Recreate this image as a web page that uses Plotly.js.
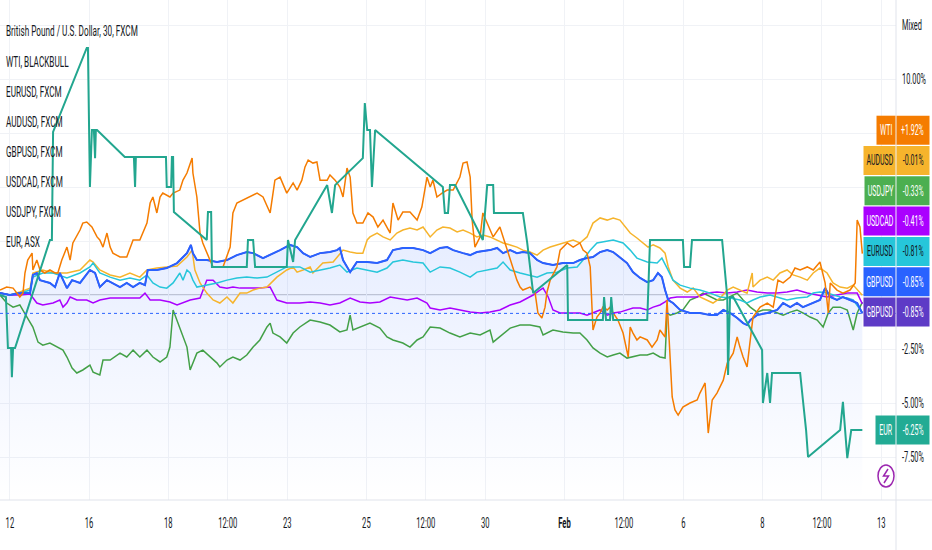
<!DOCTYPE html>
<html><head><meta charset="utf-8">
<script src="https://cdn.plot.ly/plotly-3.0.1.min.js"></script>
<style>html,body{margin:0;padding:0;background:#fff;}#chart{width:932px;height:550px;}</style>
</head><body><div id="chart"></div>
<script>
// x = trading days since Jan 12 00:00 (30-min session axis), y = % change from start
const eurX = [-0.25,-0.10,-0.05,0.03,0.05,0.08,0.13,1.01,1.06,1.09,1.94,1.97,2.02,2.07,2.12,2.15,2.17,2.20,2.90,3.13,3.16,3.18,3.94,3.96,4.07,4.09,4.12,4.14,4.97,5.00,5.08,5.10,5.98,6.01,6.14,6.19,6.99,7.02,7.15,7.20,8.01,8.13,8.21,8.91,8.96,9.02,9.09,9.14,9.22,10.93,10.98,11.06,11.11,11.24,11.94,11.99,12.05,12.20,12.22,12.95,13.06,13.21,14.07,14.09,14.97,15.00,15.05,15.15,15.18,15.23,16.09,16.16,16.99,17.02,17.17,17.22,17.98,18.11,18.13,18.18,18.26,18.99,19.01,19.12,19.19,19.24,19.95,20.02,20.10,20.15,20.96,21.03,21.14,21.24,21.52];
const eurY = [0,-0.09,-2.45,-2.45,-3.80,-2.45,-2.45,2.55,2.55,7.55,11.44,11.44,5.00,7.64,7.64,6.34,7.64,7.64,6.39,6.39,5.00,6.39,6.39,5.00,5.00,6.39,6.39,3.84,2.55,3.84,3.84,1.30,1.30,2.55,2.55,1.30,1.30,2.55,1.53,2.55,5.09,3.80,5.09,6.34,8.89,7.64,7.64,5.00,7.64,5.00,3.80,3.80,5.09,5.09,2.55,3.80,5.09,5.09,3.80,3.80,2.41,0.09,1.39,-1.16,-1.16,-0.09,-1.16,-1.16,-0.09,-1.16,-1.16,2.55,2.55,1.30,1.30,2.55,2.55,-0.09,-3.70,-0.09,-0.09,-2.55,-5.00,-3.61,-5.00,-3.61,-3.61,-4.86,-6.25,-7.50,-6.25,-4.95,-7.55,-6.25,-6.25];

const gbpX = [-0.25,0,0.25,0.51,0.58,0.68,0.76,1.01,1.14,1.26,1.44,1.57,1.77,2.02,2.15,2.27,2.45,2.60,2.78,2.95,3.11,3.28,3.41,3.48,3.71,3.96,4.22,4.47,4.57,4.62,4.72,4.97,5.23,5.48,5.73,5.98,6.14,6.39,6.57,6.82,7.07,7.25,7.40,7.58,7.83,8.08,8.26,8.33,8.41,8.51,8.59,8.76,9.02,9.27,9.52,9.67,9.92,10.18,10.43,10.61,10.86,11.04,11.19,11.44,11.62,11.79,12.12,12.30,12.45,12.63,12.80,12.95,13.13,13.31,13.46,13.71,13.96,14.22,14.39,14.57,14.72,14.90,15.08,15.23,15.40,15.58,15.73,15.91,16.09,16.24,16.36,16.46,16.54,16.62,16.74,16.92,17.17,17.42,17.68,17.85,18.01,18.18,18.36,18.51,18.61,18.69,18.86,19.12,19.37,19.52,19.70,19.87,20.02,20.28,20.45,20.58,20.71,20.88,21.03,21.21,21.39,21.52];
const gbpY = [0.09,0,0.09,0.09,0.93,1.02,0.69,0.56,0.37,1.02,0.32,0.69,0.56,1.16,1.02,0.37,0.69,0.56,0.37,0.56,0.37,0.56,0.46,1.16,1.16,1.25,1.48,1.94,2.32,1.94,1.62,1.62,1.53,1.62,1.85,1.99,1.94,1.71,1.85,2.08,2.32,2.22,1.94,1.76,1.94,1.99,2.08,2.18,1.62,1.30,1.06,1.53,1.53,1.48,1.62,2.08,2.18,2.18,2.08,1.94,2.18,2.22,2.08,1.94,1.85,1.99,2.08,2.18,1.94,2.08,1.94,1.99,1.94,1.62,1.48,1.39,1.48,1.48,1.62,1.71,1.76,1.99,2.08,1.99,1.76,1.48,1.06,0.79,0.60,0.69,1.02,0.83,0.23,-0.23,-0.37,-0.69,-0.83,-0.83,-0.93,-0.93,-0.69,-0.83,-1.06,-1.30,-1.39,-1.16,-0.93,-0.83,-0.69,-0.37,-0.56,-0.37,-0.56,-0.37,-0.23,0.32,-0.09,-0.23,-0.09,-0.23,-0.37,-0.85];

const eurusdX = [-0.25,0,0.25,0.51,0.58,0.83,1.09,1.44,1.77,2.02,2.10,2.27,2.53,2.78,3.03,3.28,3.46,3.61,3.79,3.96,4.12,4.29,4.37,4.47,4.55,4.62,4.72,4.97,5.23,5.48,5.73,5.98,6.24,6.49,6.74,6.99,7.15,7.32,7.58,7.83,8.08,8.33,8.51,8.76,9.02,9.27,9.52,9.67,9.92,10.18,10.43,10.61,10.86,11.11,11.36,11.62,11.79,12.05,12.30,12.45,12.63,12.88,13.13,13.31,13.56,13.81,14.07,14.32,14.47,14.65,14.82,14.97,15.23,15.48,15.66,15.83,16.09,16.34,16.46,16.59,16.74,16.92,17.17,17.42,17.68,17.93,18.18,18.43,18.61,18.76,18.94,19.19,19.44,19.62,19.87,20.13,20.28,20.45,20.63,20.78,20.96,21.14,21.29,21.52];
const eurusdY = [0.09,0,0.09,0.23,0.83,1.02,1.02,0.79,1.02,1.30,1.48,1.02,0.83,0.69,0.79,0.69,0.93,0.56,0.37,0.32,0.56,1.02,0.69,1.16,1.02,0.69,0.37,0.46,0.56,0.69,0.79,0.83,0.79,0.83,1.06,1.30,1.30,1.30,1.06,1.16,1.25,1.39,1.06,1.25,1.16,1.06,1.25,1.53,1.62,1.53,1.48,1.06,1.30,1.25,1.06,0.83,1.06,1.16,1.25,1.53,1.16,1.02,0.93,0.83,1.02,1.06,1.25,1.30,1.62,2.08,2.41,2.45,2.55,2.41,2.08,1.71,1.53,1.48,1.71,1.25,0.69,0.46,0.32,0.23,0.09,-0.09,-0.14,-0.23,-0.37,-0.23,-0.09,0,-0.14,-0.23,-0.14,-0.09,0.09,0.14,0.09,0,-0.09,-0.14,-0.23,-0.81];

const audX = [-0.25,0,0.25,0.51,0.58,0.83,1.09,1.44,1.77,2.02,2.10,2.27,2.53,2.78,3.03,3.28,3.46,3.71,3.96,4.22,4.47,4.60,4.67,4.80,4.97,5.13,5.30,5.48,5.63,5.81,5.98,6.14,6.31,6.49,6.74,6.99,7.15,7.25,7.40,7.58,7.65,7.90,8.16,8.33,8.41,8.59,8.76,8.91,9.02,9.09,9.27,9.42,9.60,9.77,9.92,10.10,10.28,10.43,10.61,10.78,10.93,11.11,11.29,11.44,11.62,11.79,11.94,12.12,12.30,12.45,12.63,12.80,12.95,13.13,13.31,13.46,13.64,13.81,13.96,14.22,14.39,14.57,14.72,14.90,15.08,15.23,15.40,15.53,15.66,15.83,15.98,16.11,16.24,16.41,16.54,16.62,16.74,16.92,17.10,17.25,17.42,17.60,17.75,17.93,18.11,18.26,18.43,18.61,18.74,18.76,18.94,19.12,19.27,19.44,19.62,19.77,19.95,20.13,20.28,20.45,20.63,20.78,20.96,21.14,21.29,21.52];
const audY = [0.09,0,0.14,0.32,1.02,1.16,1.02,1.02,1.16,1.62,1.53,1.16,0.93,0.83,1.02,0.83,1.16,1.25,1.30,1.34,1.76,2.08,1.16,0.56,0.09,-0.23,-0.37,-0.09,-0.37,0.09,0.09,0.23,0.32,0.37,0.83,1.16,1.30,1.06,1.16,1.30,1.02,1.48,1.53,1.94,2.08,1.99,1.94,1.94,2.55,2.69,2.87,2.69,2.55,2.87,3.01,3.10,3.01,3.15,2.69,3.01,3.15,3.10,2.92,3.01,2.87,2.69,2.78,2.69,2.55,2.41,2.32,2.22,2.08,1.99,1.85,2.08,2.22,2.32,2.41,2.55,2.41,2.69,3.33,3.57,3.47,3.57,3.47,3.15,2.87,2.64,2.41,2.22,2.32,2.18,1.94,1.30,0.69,0.32,0.14,0.32,-0.09,-0.23,-0.37,-0.14,0.23,0.37,0.23,0.09,1.02,0.37,0.69,0.83,0.69,1.02,1.16,0.93,0.83,0.69,1.02,1.25,1.02,0.56,0.37,0.32,0.46,-0.01];

const cadX = [-0.25,0,0.25,0.51,0.68,0.83,1.09,1.26,1.34,1.44,1.52,1.69,1.94,2.10,2.27,2.53,2.78,3.03,3.28,3.41,3.54,3.79,4.04,4.22,4.37,4.55,4.80,4.97,5.13,5.30,5.48,5.63,5.81,6.06,6.31,6.57,6.74,6.99,7.15,7.32,7.58,7.83,8.08,8.33,8.59,8.84,9.09,9.34,9.60,9.77,10.03,10.28,10.53,10.61,10.86,11.11,11.36,11.62,11.87,12.12,12.37,12.63,12.88,13.06,13.21,13.38,13.46,13.59,13.71,13.89,14.14,14.39,14.57,14.72,14.90,15.08,15.23,15.40,15.58,15.73,15.91,16.09,16.24,16.41,16.54,16.67,16.84,17.10,17.35,17.60,17.85,18.11,18.36,18.61,18.86,19.12,19.37,19.62,19.87,20.13,20.38,20.63,20.88,21.14,21.39,21.52];
const cadY = [0.09,0,0,0.05,-0.37,-0.46,-0.37,-0.23,-0.56,-0.37,-0.09,-0.23,-0.23,-0.37,-0.23,-0.14,-0.14,-0.14,-0.14,0.09,-0.23,-0.23,-0.32,-0.46,-0.37,-0.23,-0.14,0.69,0.69,0.37,0.32,0.37,0.32,0.32,0.32,0.37,-0.23,-0.37,-0.37,-0.37,-0.32,-0.37,-0.46,-0.37,-0.14,-0.32,-0.37,-0.32,-0.09,-0.14,-0.23,-0.14,-0.37,-0.60,-0.69,-0.60,-0.69,-0.79,-0.83,-0.79,-0.69,-0.46,-0.32,-0.14,0,0.23,0.32,-0.09,-0.69,-0.83,-0.83,-0.83,-0.93,-0.83,-0.69,-0.93,-0.83,-0.79,-0.69,-0.60,-0.60,-0.69,-0.56,-0.46,-0.32,-0.14,-0.09,-0.09,-0.09,0.09,0.14,0.09,0.14,0.23,0.14,0.09,0.09,0.14,0.23,0.09,0,-0.09,0,0.09,0.09,-0.41];

const jpyX = [-0.25,-0.08,0.08,0.25,0.43,0.58,0.71,0.83,1.01,1.19,1.34,1.44,1.57,1.69,1.84,2.02,2.10,2.27,2.35,2.53,2.78,2.95,3.11,3.28,3.46,3.61,3.79,3.96,4.04,4.12,4.22,4.34,4.47,4.55,4.72,4.87,5.05,5.23,5.30,5.48,5.63,5.81,5.98,6.14,6.31,6.49,6.57,6.64,6.82,6.99,7.15,7.32,7.58,7.83,8.08,8.33,8.51,8.59,8.66,8.84,9.09,9.34,9.52,9.67,9.92,10.10,10.28,10.43,10.61,10.86,11.11,11.36,11.62,11.87,12.12,12.20,12.37,12.63,12.88,13.13,13.38,13.46,13.71,13.96,14.22,14.39,14.57,14.72,14.90,15.08,15.23,15.40,15.58,15.73,15.91,16.09,16.24,16.41,16.54,16.59,16.67,16.84,16.99,17.17,17.35,17.50,17.68,17.85,18.01,18.18,18.36,18.51,18.69,18.86,19.01,19.19,19.37,19.52,19.70,19.87,20.02,20.20,20.38,20.53,20.66,20.78,20.96,21.14,21.29,21.39,21.52];
const jpyY = [0,-0.37,-0.56,-0.46,-1.02,-1.48,-2.18,-2.32,-2.22,-2.41,-2.55,-2.87,-3.38,-3.61,-3.47,-3.24,-3.57,-3.70,-3.01,-3.01,-2.69,-2.87,-2.55,-2.87,-2.55,-2.87,-3.10,-2.87,-2.41,-0.69,-1.16,-1.76,-2.41,-3.47,-2.69,-2.55,-2.87,-3.15,-3.33,-3.01,-2.87,-3.01,-2.78,-2.41,-2.08,-1.48,-1.30,-1.76,-1.94,-2.22,-1.76,-1.48,-1.16,-1.25,-1.39,-1.71,-1.62,-0.93,-1.62,-1.48,-1.30,-1.53,-1.94,-2.08,-2.22,-2.41,-2.08,-1.94,-1.48,-1.53,-1.76,-1.94,-1.76,-1.85,-1.62,-2.18,-1.94,-1.53,-1.39,-1.39,-1.48,-1.85,-1.62,-1.71,-1.76,-1.76,-2.08,-2.45,-2.69,-2.87,-2.78,-2.69,-2.92,-2.87,-2.78,-2.78,-2.69,-2.87,-2.92,-0.83,-0.93,-0.83,-0.69,-0.23,-0.09,0.09,-0.09,-0.23,-0.23,-0.09,0.09,-0.23,-0.56,-0.79,-0.69,-0.69,-0.83,-0.93,-0.79,-0.69,-0.83,-1.02,-1.16,-1.48,-0.83,-0.56,-0.56,-0.69,-1.62,-0.83,-0.33];

const wtiX = [-0.25,-0.08,0.08,0.25,0.33,0.38,0.45,0.56,0.58,0.68,0.76,0.88,1.01,1.14,1.21,1.31,1.44,1.52,1.59,1.77,1.84,1.94,2.07,2.20,2.27,2.35,2.45,2.53,2.60,2.78,2.95,3.11,3.28,3.46,3.54,3.61,3.71,3.79,3.86,4.04,4.12,4.29,4.37,4.47,4.60,4.62,4.72,4.80,4.87,4.97,5.05,5.13,5.23,5.38,5.56,5.63,5.73,5.88,6.06,6.24,6.39,6.57,6.69,6.82,6.99,7.15,7.25,7.37,7.45,7.53,7.65,7.75,7.83,8.01,8.08,8.21,8.33,8.41,8.51,8.59,8.66,8.76,8.91,9.04,9.17,9.29,9.42,9.60,9.67,9.80,9.92,10.10,10.28,10.40,10.53,10.61,10.68,10.78,10.91,11.04,11.19,11.36,11.44,11.54,11.62,11.67,11.74,11.87,11.94,12.05,12.20,12.37,12.45,12.58,12.70,12.80,12.88,12.95,13.13,13.26,13.33,13.43,13.51,13.56,13.64,13.81,13.89,14.07,14.22,14.39,14.47,14.57,14.65,14.72,14.82,14.90,14.97,15.08,15.15,15.23,15.35,15.48,15.61,15.66,15.73,15.83,15.91,16.09,16.21,16.34,16.41,16.54,16.59,16.64,16.72,16.79,16.87,16.99,17.17,17.35,17.42,17.55,17.63,17.73,17.85,18.01,18.11,18.26,18.36,18.43,18.51,18.61,18.69,18.76,18.94,19.12,19.27,19.39,19.52,19.70,19.82,19.95,20.13,20.28,20.45,20.58,20.66,20.71,20.88,21.03,21.21,21.34,21.39,21.46,21.52];
const wtiY = [0.23,0.37,0.32,-0.09,0.09,1.02,1.62,1.94,1.16,1.62,1.16,1.02,1.16,1.02,1.02,1.62,2.22,1.62,2.41,3.01,3.33,3.38,3.15,2.69,2.55,2.22,2.87,2.22,1.94,1.76,1.76,2.55,2.55,3.33,4.26,4.54,3.80,4.54,4.72,4.54,4.72,4.86,5.32,5.65,6.34,5.65,4.54,2.87,2.41,1.94,1.62,1.30,1.30,1.30,2.22,3.80,4.26,4.40,4.54,4.72,4.54,3.80,5.32,5.46,4.72,5.19,4.86,5.32,5.93,6.25,6.11,6.16,5.32,5.32,5.56,5.32,5.00,4.54,5.88,5.46,3.80,3.33,3.33,3.80,3.61,3.15,3.47,2.87,4.26,3.47,3.84,3.84,3.47,4.07,5.46,5.00,5.32,4.54,4.72,4.86,4.86,5.46,6.11,6.16,5.46,3.47,2.22,2.69,3.80,3.33,2.69,3.15,2.69,1.94,1.30,0.69,0.37,0.23,0.37,0.09,-0.83,-1.06,-0.56,0.14,0.69,1.30,2.08,2.41,2.22,2.41,2.08,1.94,1.30,-1.62,-1.02,-0.83,-0.56,-0.69,-0.56,-0.83,-1.16,-1.76,-2.87,-1.48,-1.76,-2.08,-1.94,-2.08,-2.41,-2.08,-1.62,-1.94,-0.23,-1.76,-4.72,-5.32,-5.56,-5.19,-5.00,-4.86,-4.54,-4.07,-6.39,-4.86,-4.54,-3.94,-3.15,-2.69,-1.94,-2.41,-2.87,-3.33,-2.08,-1.02,-0.56,-0.37,-0.56,0.69,0.56,0.83,1.25,1.16,1.30,1.16,1.53,0.56,-0.83,0.56,0.23,0.09,0.23,0.56,3.47,3.15,1.92];

const tickDays = [0,2,4,5.5,7,9,10.5,12,14,15.5,17,19,20.5,22];
const tickLabels = ['12','16','18','12:00','23','25','12:00','30','<b>Feb</b>','12:00','6','8','12:00','13'];
const yTickVals = [12.5,10,7.5,5,2.5,0,-2.5,-5,-7.5];
const yTickText = ['Mixed','10.00%','','','','','-2.50%','-5.00%','-7.50%'];
const legendLines = ['British Pound / U.S. Dollar, 30, FXCM','WTI, BLACKBULL','EURUSD, FXCM','AUDUSD, FXCM','GBPUSD, FXCM','USDCAD, FXCM','USDJPY, FXCM','EUR, ASX'];
const badgeNames = ['WTI','AUDUSD','USDJPY','USDCAD','EURUSD','GBPUSD','GBPUSD','EUR'];
const badgeValues = ['+1.92%','-0.01%','-0.33%','-0.41%','-0.81%','-0.85%','-0.85%','-6.25%'];
const badgeColors = ['#F57C00','#F6B42C','#4CAF50','#AA00FF','#26C6DA','#2962FF','#5E3BC6','#22AB94'];
const badgeTextColors = ['#ffffff','#131722','#ffffff','#ffffff','#131722','#ffffff','#ffffff','#ffffff'];

const C = {wti:'#F57C00', aud:'#F6B42C', jpy:'#43A047', cad:'#AA00FF', eurusd:'#26C6DA', gbp:'#2962FF', gbp2:'#673AB7', eur:'#22A68F'};

// layout geometry (pixels)
const W=932, H=550, PR=896, PB=500;
const X_RANGE=[-0.25,22.37], Y_RANGE=[-9.49,13.66];
const px=x=>x/PR, py=y=>(PB-y)/PB;
const FONT='Roboto, "Liberation Sans", Arial, sans-serif';

const traces = [
  {x:[gbpX[0],gbpX[gbpX.length-1]], y:[Y_RANGE[0],Y_RANGE[0]], mode:'lines', line:{width:0}, hoverinfo:'skip', showlegend:false},
  {x:gbpX, y:gbpY, mode:'lines', line:{width:0}, fill:'tonexty', fillcolor:'rgba(41,98,255,0.07)',
   fillgradient:{type:'vertical', colorscale:[[0,'rgba(41,98,255,0.0)'],[1,'rgba(41,98,255,0.11)']]}, hoverinfo:'skip', showlegend:false},
  {x:jpyX, y:jpyY, mode:'lines', line:{color:C.jpy, width:1.5}, name:'USDJPY'},
  {x:cadX, y:cadY, mode:'lines', line:{color:C.cad, width:1.5}, name:'USDCAD'},
  {x:audX, y:audY, mode:'lines', line:{color:C.aud, width:1.5}, name:'AUDUSD'},
  {x:eurusdX, y:eurusdY, mode:'lines', line:{color:C.eurusd, width:1.5}, name:'EURUSD'},
  {x:gbpX, y:gbpY, mode:'lines', line:{color:C.gbp2, width:1.5}, name:'GBPUSD, FXCM'},
  {x:gbpX, y:gbpY, mode:'lines', line:{color:C.gbp, width:2}, name:'GBPUSD'},
  {x:wtiX, y:wtiY, mode:'lines', line:{color:C.wti, width:1.5}, name:'WTI'},
  {x:eurX, y:eurY, mode:'lines', line:{color:C.eur, width:2}, name:'EUR'}
];

const annotations = [];
const legendY = [31,61.5,92,122,152,182,212,242];
legendLines.forEach((t,i)=>annotations.push({xref:'paper',yref:'paper',x:px(4),y:py(legendY[i]),xanchor:'left',yanchor:'middle',align:'left',
  text:t, showarrow:false, font:{family:FONT,size:14,color:'#131722'}}));

const shapes = [
  {type:'line', xref:'paper', yref:'y', x0:0, x1:1, y0:0, y1:0, line:{color:'#9598A1', width:1}, layer:'below'},
  {type:'line', xref:'paper', yref:'y', x0:0, x1:1, y0:gbpY[gbpY.length-1], y1:gbpY[gbpY.length-1], line:{color:C.gbp, width:1, dash:'dot'}},
  {type:'line', xref:'paper', yref:'paper', x0:0, x1:W/PR, y0:0, y1:0, line:{color:'#E0E3EB', width:1}},
  {type:'line', xref:'paper', yref:'paper', x0:1, x1:1, y0:-(H-PB)/PB, y1:1, line:{color:'#E0E3EB', width:1}}
];

// price-scale badges, stacked upward from the last one (which sits on its own value)
const badgeCenters = [130.2,160.5,190.8,221.1,251.4,281.7,312,430];
const nameW = [19,32,31,32,32,32,32,20];
const BADGE_H = 14.5;
const badgeAnnStart = annotations.length;
badgeNames.forEach((n,i)=>{
  const c=badgeCenters[i];
  shapes.push({type:'rect', xref:'paper', yref:'paper', x0:px(PR-0.5-nameW[i]), x1:px(PR-0.5), y0:py(c+BADGE_H), y1:py(c-BADGE_H), fillcolor:badgeColors[i], line:{width:0}});
  shapes.push({type:'rect', xref:'paper', yref:'paper', x0:px(PR+0.5), x1:px(929.5), y0:py(c+BADGE_H), y1:py(c-BADGE_H), fillcolor:badgeColors[i], line:{width:0}});
  annotations.push({xref:'paper',yref:'paper',x:px(PR-0.5-nameW[i]/2),y:py(c),xanchor:'center',yanchor:'middle',text:n,showarrow:false,
    font:{family:FONT,size:15,color:badgeTextColors[i]}});
  annotations.push({xref:'paper',yref:'paper',x:px((PR+0.5+929.5)/2),y:py(c),xanchor:'center',yanchor:'middle',text:badgeValues[i],showarrow:false,
    font:{family:FONT,size:15,color:badgeTextColors[i]}});
});

// lightning icon
shapes.push({type:'circle', xref:'paper', yref:'paper', xsizemode:'pixel', ysizemode:'pixel', xanchor:px(886), yanchor:py(476),
  x0:-8, x1:8, y0:-11, y1:11, line:{color:'#9C27B0', width:1.5}, fillcolor:'rgba(255,255,255,0.9)'});
shapes.push({type:'path', xref:'paper', yref:'paper', xsizemode:'pixel', ysizemode:'pixel', xanchor:px(886), yanchor:py(476),
  path:'M 2,7 L -2.5,0 L 2.5,0 L -2,-7', line:{color:'#9C27B0', width:1.5}});

const layout = {
  width:W, height:H, autosize:false,
  margin:{l:0, r:W-PR, t:0, b:H-PB, pad:0},
  paper_bgcolor:'#ffffff', plot_bgcolor:'#ffffff',
  showlegend:false,
  font:{family:FONT, color:'#131722'},
  xaxis:{range:X_RANGE, tickvals:tickDays, ticktext:tickLabels, showgrid:true, gridcolor:'#F0F2F6', gridwidth:1,
    zeroline:false, showline:false, ticks:'', tickfont:{size:14,color:'#131722',family:FONT}, ticklabelstandoff:13, fixedrange:true},
  yaxis:{range:Y_RANGE, side:'right', tickvals:yTickVals, ticktext:yTickText, showgrid:true, gridcolor:'#F0F2F6', gridwidth:1,
    zeroline:false, showline:false, ticks:'', tickfont:{size:14,color:'#131722',family:FONT}, ticklabelstandoff:5, fixedrange:true},
  shapes:shapes, annotations:annotations
};

// the reference is drawn in a narrow (condensed) face: squeeze each text group horizontally
// around its own anchor point so it reaches the reference widths
function squeeze(nodes, refNode, refWidth){
  if(!refNode) return;
  const k = refWidth / refNode.getComputedTextLength();
  nodes.forEach(t=>{
    if(t.getAttribute('data-sq')) return;
    const ax = parseFloat(t.getAttribute('x')) || 0;
    const old = t.getAttribute('transform') || '';
    t.setAttribute('data-sq','1');
    t.setAttribute('transform', (old+' translate('+ax+',0) scale('+k.toFixed(4)+',1) translate('+(-ax)+',0)').trim());
  });
}
function condense(gd){
  const ann = i => gd.querySelector('.annotation[data-index="'+i+'"] .annotation-text');
  const legendNodes = [], badgeNodes = [];
  for(let i=0;i<legendLines.length;i++){ const n=ann(i); if(n) legendNodes.push(n); }
  for(let i=badgeAnnStart;i<badgeAnnStart+badgeNames.length*2;i++){ const n=ann(i); if(n) badgeNodes.push(n); }
  const xt = Array.from(gd.querySelectorAll('.xtick text'));
  const yt = Array.from(gd.querySelectorAll('.ytick text'));
  const xRef = xt.find(t=>t.textContent==='12:00');
  const yRef = yt.find(t=>t.textContent==='10.00%');
  squeeze(legendNodes, legendNodes[0], 132);
  squeeze(badgeNodes, badgeNodes[2], 27);   // "AUDUSD"
  squeeze(xt, xRef, 19);
  squeeze(yt, yRef, 24);
}

const gd = document.getElementById('chart');
Plotly.newPlot(gd, traces, layout, {displayModeBar:false, staticPlot:true}).then(()=>{
  condense(gd);
  gd.on && gd.on('plotly_afterplot', ()=>condense(gd));
});
</script>
</body></html>
